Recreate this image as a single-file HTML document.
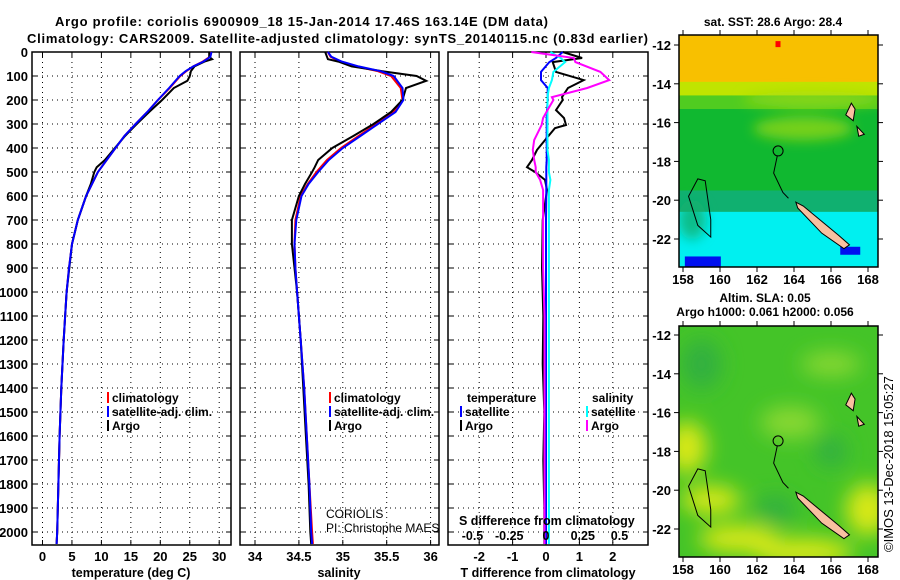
<!DOCTYPE html>
<html><head><meta charset="utf-8"><style>
body{margin:0;background:#fff}
svg{display:block;font-family:"Liberation Sans",sans-serif}
.t{font-weight:bold;font-size:13px}
.g{stroke:#000;stroke-width:1;stroke-dasharray:1,4}
</style></head><body>
<svg id="c" width="900" height="580" viewBox="0 0 900 580">
<text class="t" x="55" y="26" textLength="493" font-size="14">Argo profile: coriolis 6900909_18 15-Jan-2014 17.46S 163.14E (DM data)</text>
<text class="t" x="27" y="43" textLength="621" font-size="14">Climatology: CARS2009. Satellite-adjusted climatology: synTS_20140115.nc (0.83d earlier)</text>
<g id="p"></g>
</svg>
<script>
// ---- data ----
const depthT=[0,20,40,60,80,100,150,200,250,300,350,400,450,500,550,600,700,800,900,1000,1200,1400,1600,1800,2000,2050];
const tempClim=[28.6,28.4,27.2,25.6,24.4,23.4,21.6,19.6,17.8,15.8,13.9,12.4,10.9,9.4,8.4,7.4,6.0,5.0,4.5,4.1,3.6,3.2,2.9,2.7,2.5,2.4];
const tempSat=[28.7,28.5,27.3,25.6,24.3,23.3,21.5,19.6,17.8,15.8,13.9,12.4,10.9,9.4,8.4,7.4,6.0,5.0,4.5,4.1,3.6,3.2,2.9,2.7,2.5,2.4];
const depthA=[0,20,30,40,60,80,100,120,150,200,250,300,350,400,450,480,500,550,600,700,800,1000,1200,1400,1600,1800,2000,2050];
const tempArgo=[28.3,28.3,28.8,27.5,25.8,25.2,25.0,24.6,22.3,20.3,18.1,16.0,14.0,12.3,10.6,9.2,8.8,8.2,7.4,6.0,5.0,4.1,3.6,3.2,2.9,2.7,2.5,2.4];
const salClim=[34.83,34.86,34.97,35.15,35.40,35.55,35.66,35.68,35.58,35.38,35.18,34.98,34.82,34.70,34.60,34.52,34.46,34.45,34.46,34.48,34.52,34.56,34.59,34.62,34.65,34.66];
const salSat=[34.83,34.87,34.99,35.18,35.43,35.58,35.68,35.69,35.60,35.40,35.20,35.00,34.84,34.72,34.61,34.53,34.47,34.45,34.46,34.48,34.52,34.56,34.59,34.62,34.64,34.65];
const salArgo=[34.80,34.82,34.83,34.95,35.10,35.45,35.84,35.95,35.72,35.68,35.55,35.35,35.12,34.88,34.72,34.68,34.65,34.57,34.50,34.42,34.42,34.48,34.52,34.55,34.58,34.61,34.63,34.64];
const depthD=[0,25,42,83,117,150,188,200,242,275,304,317,367,408,450,480,500,533,575,700,900,1100,1300,1500,1700,1900,2050];
const tdiffSat=[0.5,0.3,0.1,-0.15,-0.15,0.05,0.05,0.05,0.03,0.02,0.02,0.02,0.02,0.02,0.02,0.01,0.01,0.01,0.01,0.0,0.0,0.0,0.0,0.0,0.0,0.0,0.0];
const tdiffArgo=[0.5,1.08,0.2,0.3,1.13,0.66,0.48,0.5,0.3,0.54,0.6,0.27,-0.03,-0.27,-0.42,-0.57,-0.33,-0.03,0.03,-0.1,-0.12,-0.08,-0.1,-0.05,-0.08,-0.05,-0.05];
const sdiffArgo=[-0.1,0.19,0.2,0.37,0.43,0.28,0.04,0.05,0.01,-0.02,-0.03,-0.04,-0.08,-0.09,-0.08,-0.07,-0.07,-0.04,-0.02,-0.02,-0.02,-0.01,-0.01,-0.01,-0.01,-0.01,-0.01];
const sdiffSat=[0.03,0.1,0.13,0.05,0.04,0.02,0.01,0.01,0.01,0.01,0.01,0.01,0.01,0.01,0.02,0.02,0.02,0.03,0.02,0.02,0.02,0.02,0.02,0.02,0.02,0.02,0.02];
const depthTicks=[0,100,200,300,400,500,600,700,800,900,1000,1100,1200,1300,1400,1500,1600,1700,1800,1900,2000];
const tTicks=[0,5,10,15,20,25,30];
const sTicks=[34,34.5,35,35.5,36];
const dTicks=[-2,-1,0,1,2];
const sdLabels=["-0.5","-0.25","0","0.25","0.5"];
const sdVals=[-0.5,-0.25,0,0.25,0.5];
const lonTicks=[158,160,162,164,166,168];
const latTicks=[-12,-14,-16,-18,-20,-22];
// SST bands
const sstBandTop=[-11.4,-13.9,-14.6,-15.3,-19.5,-20.6];
const sstBandBot=[-13.9,-14.6,-15.3,-19.5,-20.6,-23.5];
const sstBandCol=["#f8c000","#c0e400","#50cc20","#10b830","#10b070","#00f0f0"];
// ---- helpers ----
const NS="http://www.w3.org/2000/svg";
const P=document.getElementById('p');
function mk(tag,attrs,parent){const e=document.createElementNS(NS,tag);for(const k in attrs)e.setAttribute(k,attrs[k]);(parent||P).appendChild(e);return e;}
const pTop=52,pBot=545;
const yD=d=>pTop+d*0.24;
const xT=v=>42.5+v*5.89;
const xS=v=>255+(v-34)*87.8;
const xTd=v=>546+v*33.4;
const xSd=v=>546+v*147;
const panels=[[32,231],[240,439],[448,648]];
panels.forEach((pp,i)=>{
  const r=mk('rect',{x:pp[0],y:pTop,width:pp[1]-pp[0],height:pBot-pTop,fill:'none',stroke:'#000','stroke-width':1.5});
  
  
  depthTicks.forEach(d=>{
    if(d>0){const l=mk('line',{x1:pp[0],x2:pp[1],y1:yD(d),y2:yD(d),class:'g'});
    
    }
    mk('line',{x1:pp[0],x2:pp[0]+5,y1:yD(d),y2:yD(d),stroke:'#000'});
    mk('line',{x1:pp[1]-5,x2:pp[1],y1:yD(d),y2:yD(d),stroke:'#000'});
  });
});
depthTicks.forEach(d=>{
  const t=mk('text',{x:28,y:yD(d)+5,'text-anchor':'end',class:'t'});t.textContent=d;
  
  
});
function vgrid(ticks,fx,pp,labels){
  ticks.forEach((v,i)=>{
    const x=fx(v);
    const l=mk('line',{x1:x,x2:x,y1:pTop,y2:pBot,class:'g'});
    
    
    mk('line',{x1:x,x2:x,y1:pBot-5,y2:pBot,stroke:'#000'});
    mk('line',{x1:x,x2:x,y1:pTop,y2:pTop+5,stroke:'#000'});
    const t=mk('text',{x:x,y:561,'text-anchor':'middle',class:'t'});t.textContent=labels?labels[i]:v;
    
    
  });
}
vgrid(tTicks,xT,panels[0]);
vgrid(sTicks,xS,panels[1]);
vgrid(dTicks,xTd,panels[2]);
function line(xs,ds,fx,col,name){
  const pts=xs.map((v,i)=>fx(v).toFixed(1)+','+yD(ds[i]).toFixed(1)).join(' ');
  const e=mk('polyline',{points:pts,fill:'none',stroke:col,'stroke-width':2});
  
  
}
line(tempClim,depthT,xT,'#f00','temp-climatology-line');
line(tempArgo,depthA,xT,'#000','temp-argo-line');
line(tempSat,depthT,xT,'#00f','temp-satellite-line');
line(salClim,depthT,xS,'#f00','sal-climatology-line');
line(salArgo,depthA,xS,'#000','sal-argo-line');
line(salSat,depthT,xS,'#00f','sal-satellite-line');
line(tdiffArgo,depthD,xTd,'#000','tdiff-argo-line');
line(tdiffSat,depthD,xTd,'#00f','tdiff-satellite-line');
line(sdiffSat,depthD,xSd,'#0ff','sdiff-satellite-line');
line(sdiffArgo,depthD,xSd,'#f0f','sdiff-argo-line');
function txt(x,y,s,name,extra){const t=mk('text',Object.assign({x:x,y:y,'font-size':12,'font-weight':'bold'},extra||{}));t.textContent=s;
  
  return t;}
function legItem(x,y,col,s,name){mk('rect',{x:x,y:y-10,width:2,height:11,fill:col});txt(x+5,y,s,name);}
legItem(107,402,'#f00','climatology','legend-climatology');
legItem(107,416,'#00f','satellite-adj. clim.','legend-satellite');
legItem(107,430,'#000','Argo','legend-argo');
legItem(329,402,'#f00','climatology','legend2-climatology');
legItem(329,416,'#00f','satellite-adj. clim.','legend2-satellite');
legItem(329,430,'#000','Argo','legend2-argo');
txt(467,402,'temperature','legend-temperature-heading');
txt(592,402,'salinity','legend-salinity-heading');
legItem(460,416,'#00f','satellite','legend-t-satellite');
legItem(460,430,'#000','Argo','legend-t-argo');
legItem(586,416,'#0ff','satellite','legend-s-satellite');
legItem(586,430,'#f0f','Argo','legend-s-argo');
txt(326,518,'CORIOLIS','coriolis-label',{'font-weight':'normal'});
txt(326,532,'PI: Christophe MAES','pi-label',{'font-weight':'normal'});
txt(459,525,'S difference from climatology','sdiff-axis-title',{'font-size':12.5});
sdLabels.forEach((s,i)=>{txt(xSd(sdVals[i]),540,s,'sdiff-tick-label',{'text-anchor':'middle','font-size':12.5});});
txt(131,577,'temperature (deg C)','x-axis-title-temperature',{'text-anchor':'middle','font-size':12.5});
txt(339,577,'salinity','x-axis-title-salinity',{'text-anchor':'middle','font-size':12.5});
txt(548,577,'T difference from climatology','x-axis-title-tdiff',{'text-anchor':'middle','font-size':12.5});
// ---- maps ----
const mx=lon=>683+(lon-158)*18.5;
function map(y0,mTop,mBot,name,isSST){
  const my=lat=>y0+(-12-lat)*19.4;
  const g=mk('g',{});
  
  
  const cid='clip'+name;
  const cp=mk('clipPath',{id:cid},g);mk('rect',{x:679,y:mTop,width:199,height:mBot-mTop},cp);
  const inner=mk('g',{'clip-path':'url(#'+cid+')'},g);
  const f=mk('filter',{id:'bl'+name,x:'-50%',y:'-50%',width:'200%',height:'200%'},g);mk('feGaussianBlur',{stdDeviation:isSST?6:10},f);
  if(isSST){
    sstBandCol.forEach((c,i)=>{const r=mk('rect',{x:679,y:my(sstBandTop[i]),width:199,height:my(sstBandBot[i])-my(sstBandTop[i])+1,fill:c},inner);
      
      });
    const b=mk('g',{filter:'url(#bl'+name+')'},inner);
    mk('ellipse',{cx:mx(164.5),cy:my(-16.3),rx:50,ry:12,fill:'#a0dc10',opacity:0.7},b);
    mk('ellipse',{cx:mx(165),cy:my(-14.8),rx:70,ry:8,fill:'#a0dc10',opacity:0.7},b);
    mk('ellipse',{cx:mx(158.5),cy:my(-21),rx:14,ry:20,fill:'#10b070',opacity:0.8},b);
    mk('rect',{x:mx(158.1),y:my(-22.9),width:36,height:16,fill:'#0010f0'},inner);
    mk('rect',{x:mx(166.5),y:my(-22.4),width:20,height:8,fill:'#0010f0'},inner);
    mk('rect',{x:mx(163),y:my(-11.8),width:5,height:6,fill:'#f00'},inner);
  } else {
    mk('rect',{x:679,y:mTop,width:199,height:mBot-mTop,fill:'#44c428'},inner);
    const b=mk('g',{filter:'url(#bl'+name+')'},inner);
    [[158.2,-17.8,20,26],[159.5,-20.5,30,14],[161,-22.5,40,14],[164.5,-23.2,50,14],[168,-21,22,26]].forEach(e=>mk('ellipse',{cx:mx(e[0]),cy:my(e[1]),rx:e[2],ry:e[3],fill:'#d8e818'},b));
    [[163.8,-16.5,30,16],[166,-13.5,30,12]].forEach(e=>mk('ellipse',{cx:mx(e[0]),cy:my(e[1]),rx:e[2],ry:e[3],fill:'#88d830'},b));
    [[159,-13.5,20,25],[166,-18,16,16],[163,-21,20,14]].forEach(e=>mk('ellipse',{cx:mx(e[0]),cy:my(e[1]),rx:e[2],ry:e[3],fill:'#30b040'},b));
  }
  mk('polygon',{points:[[164.1,-20.1],[164.5,-20.3],[166.4,-21.8],[167,-22.3],[166.7,-22.5],[165.5,-21.7],[164.2,-20.4]].map(p=>mx(p[0])+','+my(p[1])).join(' '),fill:'#f8c0a0',stroke:'#000','stroke-width':1},inner);
  mk('polygon',{points:[[167.1,-15],[167.3,-15.3],[167.2,-15.9],[166.8,-15.6]].map(p=>mx(p[0])+','+my(p[1])).join(' '),fill:'#f8c0a0',stroke:'#000'},inner);
  mk('polygon',{points:[[167.4,-16.2],[167.8,-16.6],[167.5,-16.7]].map(p=>mx(p[0])+','+my(p[1])).join(' '),fill:'#f8c0a0',stroke:'#000'},inner);
  mk('path',{d:'M'+mx(158.8)+' '+my(-18.9)+' L'+mx(158.3)+' '+my(-19.8)+' L'+mx(158.8)+' '+my(-21.3)+' L'+mx(159.5)+' '+my(-21.9)+' L'+mx(159.5)+' '+my(-21)+' L'+mx(159.2)+' '+my(-19)+' Z',fill:'none',stroke:'#000'},inner);
  mk('path',{d:'M'+mx(163.1)+' '+my(-17.7)+' L'+mx(162.9)+' '+my(-18.6)+' L'+mx(163.4)+' '+my(-19.6)+' L'+mx(163.7)+' '+my(-19.9),fill:'none',stroke:'#000'},inner);
  const c=mk('circle',{cx:mx(163.14),cy:my(-17.46),r:5,fill:'none',stroke:'#000'},inner);
  
  
  mk('rect',{x:679,y:mTop,width:199,height:mBot-mTop,fill:'none',stroke:'#000','stroke-width':1.5},g);
  lonTicks.forEach(l=>{mk('line',{x1:mx(l),x2:mx(l),y1:mBot,y2:mBot+5,stroke:'#000'},g);mk('line',{x1:mx(l),x2:mx(l),y1:mTop-5,y2:mTop,stroke:'#000'},g);
    const t=mk('text',{x:mx(l),y:mBot+17,'text-anchor':'middle',class:'t'},g);t.textContent=l;
    
    });
  latTicks.forEach(l=>{mk('line',{x1:674,x2:679,y1:my(l),y2:my(l),stroke:'#000'},g);mk('line',{x1:878,x2:883,y1:my(l),y2:my(l),stroke:'#000'},g);
    const t=mk('text',{x:671,y:my(l)+5,'text-anchor':'end',class:'t'},g);t.textContent=l;
    
    });
}
map(45,35,267,'sst-map',true);
map(335,326,557,'sla-map',false);
txt(773,26,'sat. SST: 28.6 Argo: 28.4','sst-map-title',{'text-anchor':'middle'});
txt(765,302,'Altim. SLA: 0.05','sla-map-title',{'text-anchor':'middle'});
txt(765,316,'Argo h1000: 0.061 h2000: 0.056','argo-height-title',{'text-anchor':'middle'});
txt(0,0,'©IMOS 13-Dec-2018 15:05:27','imos-timestamp',{'font-weight':'normal','font-size':13,transform:'translate(893,552) rotate(-90)'});
</script>
</body></html>
